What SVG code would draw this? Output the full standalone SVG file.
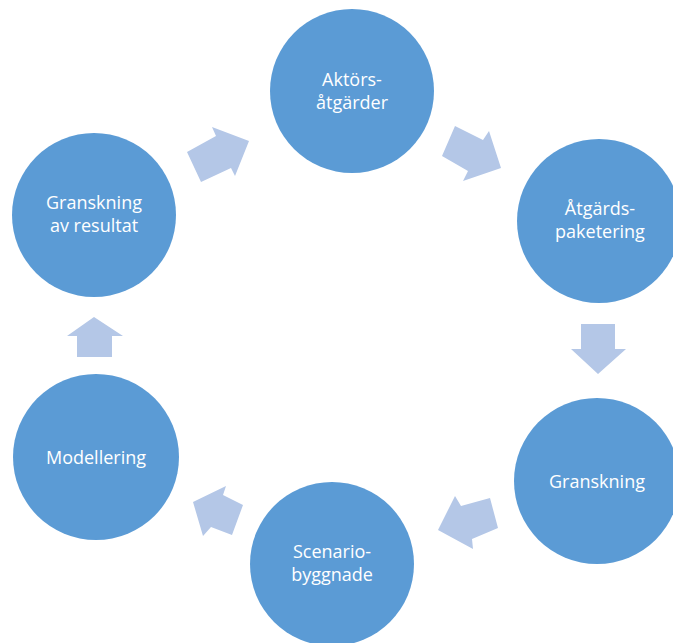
<svg xmlns="http://www.w3.org/2000/svg" width="673" height="643" viewBox="0 0 673 643">
<style>
.n{fill:#5b9bd5}
.t{fill:#ffffff;font-family:"Open Sans","Liberation Sans",sans-serif;font-size:18px;text-anchor:middle}
.a{fill:#b4c7e7}
</style>
<rect width="673" height="643" fill="#ffffff"/>
<g id="connectors">
<polygon class="a" points="187,152 216,136 212,127 249,141 235,176 231,168 201,182"/>
<polygon class="a" points="455,126 483,140 489,131 501,168 463,181 468,171 442,156"/>
<polygon class="a" points="581,324 615,324 615,349 626,349 598,374 571,349 581,349"/>
<polygon class="a" points="490,498 498,528 472,539 473,549 438,530 455,496 461,506"/>
<polygon class="a" points="243,505 232,535 211,527 203,536 193,502 226,486 223,495"/>
<polygon class="a" points="94,317 123,336 112,336 112,357 77,357 77,336 67,336"/>
</g>
<g id="aktorsatgarder">
<circle class="n" cx="352" cy="91" r="82"/>
<text class="t" x="352" y="86">Aktörs-</text>
<text class="t" x="352" y="109">åtgärder</text>
</g>
<g id="atgardspaketering">
<circle class="n" cx="599" cy="221" r="82"/>
<text class="t" x="600" y="215">Åtgärds-</text>
<text class="t" x="600" y="238">paketering</text>
</g>
<g id="granskning">
<circle class="n" cx="597" cy="481" r="83"/>
<text class="t" x="597" y="488">Granskning</text>
</g>
<g id="scenariobyggnade">
<circle class="n" cx="332" cy="564" r="82"/>
<text class="t" x="332" y="558">Scenario-</text>
<text class="t" x="332" y="581">byggnade</text>
</g>
<g id="modellering">
<circle class="n" cx="96" cy="457" r="83"/>
<text class="t" x="96" y="464">Modellering</text>
</g>
<g id="granskningavresultat">
<circle class="n" cx="94" cy="215" r="82"/>
<text class="t" x="94" y="209">Granskning</text>
<text class="t" x="94" y="232">av resultat</text>
</g>
</svg>
